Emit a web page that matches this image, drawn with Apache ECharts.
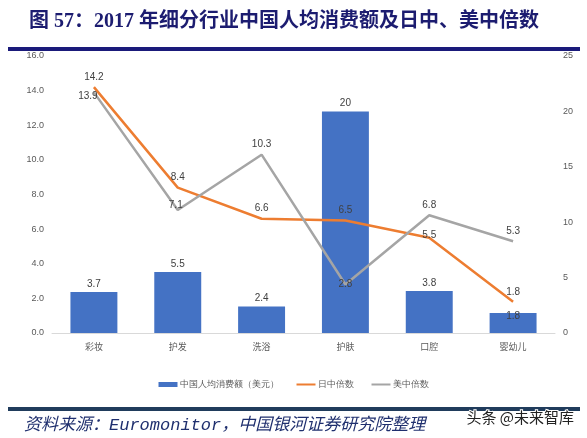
<!DOCTYPE html>
<html><head><meta charset="utf-8">
<script src="https://cdn.jsdelivr.net/npm/echarts@6/dist/echarts.min.js"></script>
<style>html,body{margin:0;padding:0;background:#fff}#c{width:587px;height:438px}</style>
</head><body><div id="c"></div>
<script>
const categories = ['彩妆', '护发', '洗浴', '护肤', '口腔', '婴幼儿'];
const consumption = [3.7, 5.5, 2.4, 20, 3.8, 1.8];
const jpMultiple = [14.2, 8.4, 6.6, 6.5, 5.5, 1.8];
const usMultiple = [13.9, 7.1, 10.3, 2.8, 6.8, 5.3];
const leftTicks = [0, 2, 4, 6, 8, 10, 12, 14, 16];
const rightTicks = [0, 5, 10, 15, 20, 25];

const barLabelOverride = {5: {position: 'top', offset: [0, 11]}};
const usLabelOverride = {0: {position: 'top', offset: [-6, 14]}, 1: {position: 'top', offset: [-2, 5]}, 3: {position: 'inside'}};
const jpLabelOverride = {4: {position: 'top', offset: [0, 7]}};

function withLabels(vals, ov) {
  return vals.map((v, i) => ov[i] ? {value: v, label: ov[i]} : v);
}
const lblStyle = {show: true, fontSize: 10, color: '#404040', fontFamily: 'Liberation Sans, sans-serif'};
const axisFont = {fontSize: 9, color: '#595959', fontFamily: 'Liberation Sans, Noto Sans CJK SC, sans-serif'};
const lineIcon = 'path://M0,0L19,0L19,2L0,2Z';

const chart = echarts.init(document.getElementById('c'));
chart.setOption({
  animation: false,
  title: {
    text: '图 57：2017 年细分行业中国人均消费额及日中、美中倍数',
    left: 24, top: 7,
    textStyle: {fontSize: 20, fontWeight: 'bold', color: '#1c1c70', fontFamily: 'Liberation Serif, Noto Sans CJK SC, serif'}
  },
  graphic: [
    {type: 'rect', shape: {x: 8, y: 47, width: 572, height: 4}, style: {fill: '#1a1a7a'}},
    {type: 'rect', shape: {x: 8, y: 407, width: 572, height: 4}, style: {fill: '#203c5c'}},
    {type: 'text', left: 24, top: 417, style: {text: '资料来源：Euromonitor，中国银河证券研究院整理', fontSize: 17, fontStyle: 'italic', fill: '#1f2f6e', fontFamily: 'Liberation Mono, Noto Sans CJK SC, monospace'}},
    {type: 'text', right: 12, top: 409, style: {text: '头条 @未来智库', fontSize: 15, fill: '#222', stroke: '#fff', lineWidth: 2, fontFamily: 'Noto Sans CJK SC, sans-serif'}}
  ],
  legend: {
    data: [
      {name: '中国人均消费额（美元）', icon: 'rect'},
      {name: '日中倍数', icon: lineIcon},
      {name: '美中倍数', icon: lineIcon}
    ],
    left: 'center', top: 375, itemWidth: 19, itemHeight: 5, itemGap: 18,
    textStyle: {fontSize: 9, color: '#595959', padding: [0, 0, 0, -3]}
  },
  grid: {left: 52, right: 32, top: 56, bottom: 105},
  xAxis: {
    type: 'category', data: categories,
    axisLine: {lineStyle: {color: '#d9d9d9'}}, axisTick: {show: false},
    axisLabel: Object.assign({margin: 10}, axisFont)
  },
  yAxis: [
    {type: 'value', min: leftTicks[0], max: leftTicks[leftTicks.length - 1], interval: 2,
     splitLine: {show: false}, axisLine: {show: false}, axisTick: {show: false},
     axisLabel: Object.assign({formatter: v => v.toFixed(1), margin: 8}, axisFont)},
    {type: 'value', min: rightTicks[0], max: rightTicks[rightTicks.length - 1], interval: 5,
     splitLine: {show: false}, axisLine: {show: false}, axisTick: {show: false},
     axisLabel: Object.assign({margin: 8}, axisFont)}
  ],
  series: [
    {name: '中国人均消费额（美元）', type: 'bar', yAxisIndex: 1, barWidth: '56%',
     itemStyle: {color: '#4472C4'},
     label: Object.assign({position: 'top', distance: 3}, lblStyle),
     data: withLabels(consumption, barLabelOverride)},
    {name: '日中倍数', type: 'line', yAxisIndex: 0, symbol: 'circle', symbolSize: 0.01, showSymbol: true,
     lineStyle: {color: '#ED7D31', width: 2.5}, itemStyle: {color: '#ED7D31'},
     label: Object.assign({position: 'top', distance: 5}, lblStyle),
     data: withLabels(jpMultiple, jpLabelOverride)},
    {name: '美中倍数', type: 'line', yAxisIndex: 0, symbol: 'circle', symbolSize: 0.01, showSymbol: true,
     lineStyle: {color: '#A5A5A5', width: 2.5}, itemStyle: {color: '#A5A5A5'},
     label: Object.assign({position: 'top', distance: 5}, lblStyle),
     data: withLabels(usMultiple, usLabelOverride)}
  ]
});
</script></body></html>
